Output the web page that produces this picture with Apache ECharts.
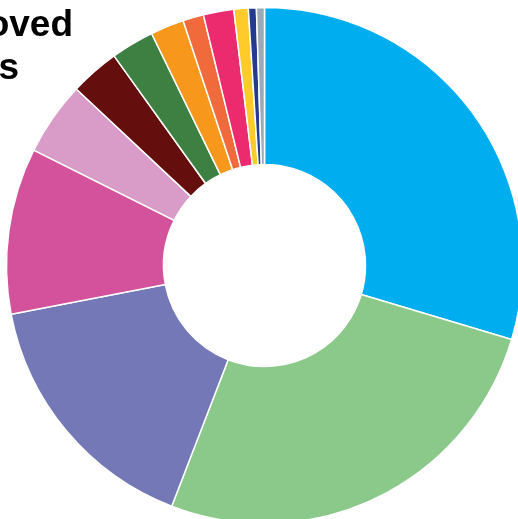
<!DOCTYPE html>
<html>
<head>
<meta charset="utf-8">
<script src="https://cdn.jsdelivr.net/npm/echarts@6/dist/echarts.min.js"></script>
<style>
html,body{margin:0;padding:0;background:#fff;}
#chart{width:518px;height:519px;}
</style>
</head>
<body>
<div id="chart"></div>
<script>
const titleLines = ["Approved", "Loans"];
const categories = ["Category 1","Category 2","Category 3","Category 4","Category 5","Category 6","Category 7","Category 8","Category 9","Category 10","Category 11","Category 12","Category 13"];
const values = [29.6, 26.2, 16.1, 10.4, 4.6, 3.1, 2.7, 2.1, 1.3, 1.9, 0.9, 0.5, 0.5];
const colors = ["#00AEEF","#8BC98A","#7478B6","#D4519B","#D99CC8","#650E0E","#3E8041","#F7981D","#F06A3B","#EC2A6E","#FFCB2A","#253B8F","#9AABB7"];

const chart = echarts.init(document.getElementById('chart'), null, {renderer:'canvas'});
chart.setOption({
  animation: false,
  backgroundColor: '#fff',
  graphic: [
    {type:'text', right: 518-73, top: 7, style:{text: titleLines[0], font:'bold 37px "Liberation Sans"', fill:'#000', align:'right'}},
    {type:'text', right: 518-19, top: 50, style:{text: titleLines[1], font:'bold 37px "Liberation Sans"', fill:'#000', align:'right'}}
  ],
  series: [{
    type: 'pie',
    center: [264.5, 265.5],
    radius: [101, 258],
    startAngle: 90,
    clockwise: true,
    avoidLabelOverlap: false,
    label: {show:false},
    labelLine: {show:false},
    emphasis: {disabled:true},
    itemStyle: {borderColor:'#fff', borderWidth:1.5},
    data: categories.map((c,i)=>({name:c, value:values[i], itemStyle:{color:colors[i]}}))
  }]
});
</script>
</body>
</html>
